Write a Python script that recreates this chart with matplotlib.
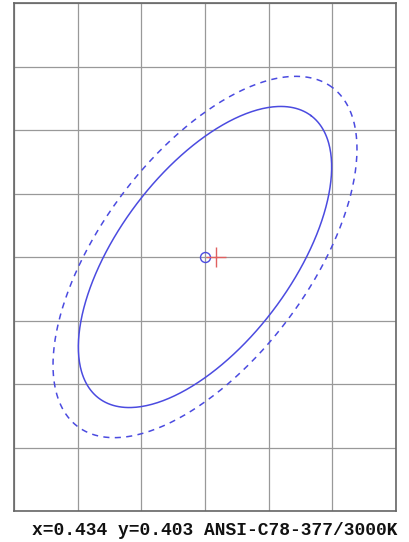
import numpy as np
import matplotlib
matplotlib.use("Agg")
import matplotlib.pyplot as plt

# Data
center_x, center_y = 0.4338, 0.4030          # ellipse centre (ANSI C78.377 3000K)
semi_a, semi_b = 0.00834, 0.00408            # 7-step ellipse semi-axes
theta_deg = 53.22                            # ellipse rotation
outer_scale = 1.2                            # dashed ellipse scale
meas_x, meas_y = 0.4343, 0.4030              # measured point
grid_step = 0.003
label = "x=0.434 y=0.403 ANSI-C78-377/3000K"

fig = plt.figure(figsize=(4.09, 5.42), dpi=100)
ax = fig.add_axes([14/409, 31/542, 382/409, 508/542])

t = np.linspace(0, 2*np.pi, 400)
th = np.deg2rad(theta_deg)
def ell(s):
    ex = s*semi_a*np.cos(t); ey = s*semi_b*np.sin(t)
    return (center_x + ex*np.cos(th) - ey*np.sin(th),
            center_y + ex*np.sin(th) + ey*np.cos(th))

col = '#4b4be0'
x1, y1 = ell(1.0)
ax.plot(x1, y1, color=col, lw=1.1)
x2, y2 = ell(outer_scale)
ax.plot(x2, y2, color=col, lw=1.1, ls=(0, (4, 3.5)))

ax.plot([center_x], [center_y], marker='o', ms=7.2, mfc='none', mec=col, mew=1.0)
ax.plot([meas_x], [meas_y], marker='+', ms=15, mec='#e06060', mew=1.0)

ax.set_xlim(center_x - 3*grid_step, center_x + 3*grid_step)
ax.set_ylim(center_y - 4*grid_step, center_y + 4*grid_step)
ax.set_xticks(center_x + grid_step*np.arange(-3, 4))
ax.set_yticks(center_y + grid_step*np.arange(-4, 5))
ax.grid(True, color='#999999', lw=0.9)
ax.set_axisbelow(True)
ax.tick_params(length=0, labelbottom=False, labelleft=False)
for sp in ax.spines.values():
    sp.set_color('#666666'); sp.set_linewidth(1.2)

fig.text(398/409, 1 - 535/542, label, ha='right', va='baseline',
         family='Liberation Mono', weight='bold', fontsize=12.9, color='#111111')

fig.savefig('out.png', dpi=100)
